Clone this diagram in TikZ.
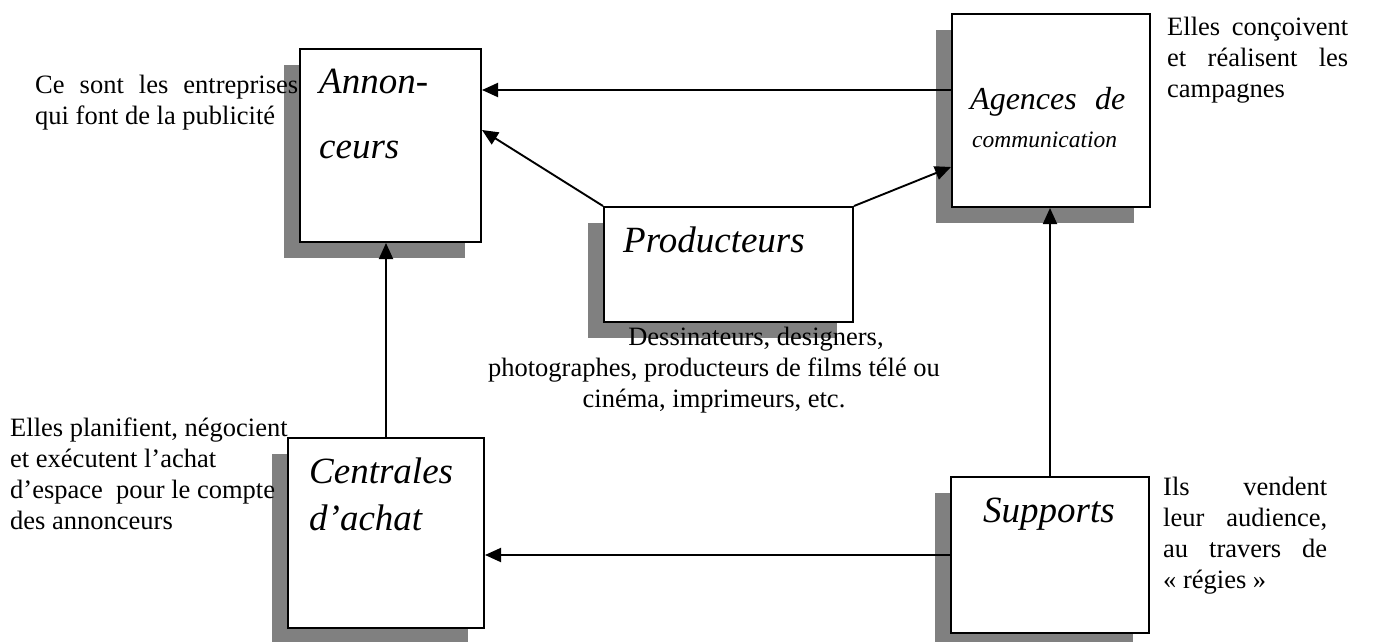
\documentclass[tikz,border=0pt]{standalone}
\usepackage{fontspec}
\setmainfont{Liberation Serif}
\usetikzlibrary{arrows.meta,shadows,calc}
\definecolor{shade}{RGB}{128,128,128}
\begin{document}
\begin{tikzpicture}[x=1pt,y=-1pt,
  box/.style={draw, line width=2pt, fill=white, anchor=north west, inner sep=0pt,
    general shadow={fill=shade, shadow xshift=-16pt, shadow yshift=-16pt}},
  link/.style={line width=1.9pt, -{Triangle[length=16pt,width=14pt]}},
  body/.style={font=\fontsize{26.5}{31}\selectfont, inner sep=0pt, anchor=base west, align=left},
  title/.style={font=\fontsize{37}{47}\selectfont\itshape, inner sep=0pt, anchor=base west, align=left}]
\useasboundingbox (0,0) rectangle (1373,642);

% the five actors
\node[box, minimum width=181pt, minimum height=193pt] (ann) at (299,48) {};
\node[box, minimum width=198pt, minimum height=193pt] (age) at (951,13) {};
\node[box, minimum width=249pt, minimum height=115pt] (pro) at (603,206) {};
\node[box, minimum width=196pt, minimum height=190pt] (cen) at (287,437) {};
\node[box, minimum width=198pt, minimum height=156pt] (sup) at (950,476) {};

% heights of the slanted and horizontal links
\coordinate (h1) at (0,90);
\coordinate (h2) at (0,130);
\coordinate (h3) at (0,167);

% links between actors
\draw[link] (age.west |- h1) -- (ann.east |- h1);
\draw[link] (pro.north west) -- (ann.east |- h2);
\draw[link] (pro.north east) -- (age.west |- h3);
\draw[link] (cen.north) -- (cen.north |- ann.south);
\draw[link] (sup.north) -- (sup.north |- age.south);
\draw[link] (sup.west) -- (sup.west -| cen.east);

% names inside the boxes (anchored on the baseline of their last line)
\node[title, font=\fontsize{37}{65}\selectfont\itshape] (nann) at (319,158) {Annon-\\ceurs};
\node[title, font=\fontsize{32}{40}\selectfont\itshape] (nage) at (970,110) {\makebox[155pt][s]{Agences de}};
\node[title, font=\fontsize{23.5}{30}\selectfont\itshape] (nage2) at (972,147) {communication};
\node[title] (npro) at (623,252) {Producteurs};
\node[title] (ncen) at (309,530) {Centrales\\d’achat};
\node[title] (nsup) at (983,522) {Supports};

% descriptions
\node[body] (tann) at (35,124) {\makebox[263pt][s]{Ce sont les entreprises}\\qui font de la publicité};
\node[body] (tage) at (1167,97) {\makebox[181pt][s]{Elles conçoivent}\\\makebox[181pt][s]{et réalisent les}\\campagnes};
\node[body] (tcen) at (10,529) {Elles planifient, négocient\\et exécutent l’achat\\d’espace\ \ pour le compte\\des annonceurs};
\node[body] (tsup) at (1163,588) {\makebox[164pt][s]{Ils vendent}\\\makebox[164pt][s]{leur audience,}\\\makebox[164pt][s]{au travers de}\\« régies »};
\node[body, align=center, anchor=base] (tpro) at (714,407) {\hspace*{84pt}Dessinateurs, designers,\\photographes, producteurs de films télé ou\\cinéma, imprimeurs, etc.};
\end{tikzpicture}
\end{document}
